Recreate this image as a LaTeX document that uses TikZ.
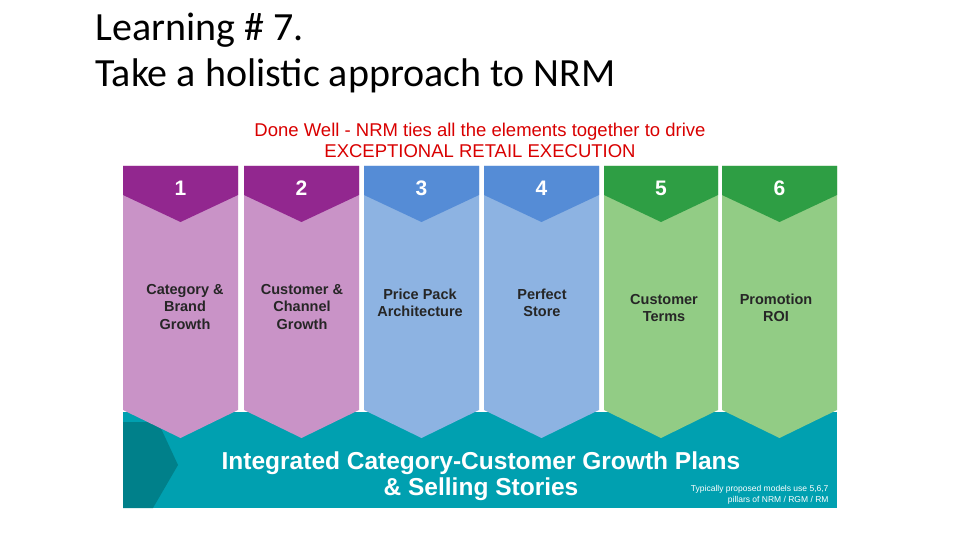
\documentclass[tikz,border=0pt]{standalone}
\usepackage{fontspec}
\setmainfont{Liberation Sans}
\newfontfamily\titlefont{Carlito}
\begin{document}
\begin{tikzpicture}[x=1pt,y=-1pt,
  num/.style={text=white,font=\bfseries\fontsize{21}{23}\selectfont},
  lbl/.style={text=black!85,font=\bfseries\fontsize{14.5}{17.5}\selectfont,align=center}]
\useasboundingbox (0,0) rectangle (960,540);
\fill[white] (0,0) rectangle (960,540);
\node[anchor=west,font=\titlefont\fontsize{40}{46}\selectfont] (t1) at (92,30) {Learning \# 7.};
\node[anchor=west,font=\titlefont\fontsize{40}{46}\selectfont] (t2) at (92,76) {Take a holistic approach to NRM};
\node[text=red!85!black,font=\fontsize{18.5}{21}\selectfont,align=center] (sub) at (480,140) {Done Well - NRM ties all the elements together to drive\\EXCEPTIONAL RETAIL EXECUTION};
\fill[fill={rgb,255:red,0;green,160;blue,176}] (123,412) rectangle (837,508);
\fill[fill={rgb,255:red,0;green,128;blue,138}] (123,422) -- (158,422) -- (178,465) -- (153,508) -- (123,508) -- cycle;
\definecolor{pd}{RGB}{146,39,143}\definecolor{pl}{RGB}{201,147,199}
\definecolor{bd}{RGB}{85,140,214}\definecolor{bl}{RGB}{141,179,226}
\definecolor{gd}{RGB}{46,158,68}\definecolor{gl}{RGB}{146,204,133}
\foreach \i/\xa/\xb/\d/\l in {1/123/238/pd/pl,2/244/359/pd/pl,3/364/479/bd/bl,4/484/599/bd/bl,5/604/718/gd/gl,6/722/837/gd/gl}{
  \pgfmathsetmacro{\xm}{(\xa+\xb)/2}
  \fill[\l] (\xa,166) -- (\xb,166) -- (\xb,410) -- (\xm,438) -- (\xa,410) -- cycle;
  \fill[\d] (\xa,166) -- (\xb,166) -- (\xb,195) -- (\xm,222) -- (\xa,195) -- cycle;
  \node[num] (n\i) at (\xm,188) {\i};
}
\node[lbl] (c1) at (185,307) {Category \&\\Brand\\Growth};
\node[lbl] (c2) at (302,307) {Customer \&\\Channel\\Growth};
\node[lbl] (c3) at (420,303) {Price Pack\\Architecture};
\node[lbl] (c4) at (542,303) {Perfect\\Store};
\node[lbl] (c5) at (664,308) {Customer\\Terms};
\node[lbl] (c6) at (776,308) {Promotion\\ROI};
\node[text=white,font=\bfseries\fontsize{24.5}{26}\selectfont,align=center] (band) at (481,476) {Integrated Category-Customer Growth Plans\\\& Selling Stories};
\node[text=white,font=\fontsize{8.5}{11}\selectfont,align=right,anchor=east] (note) at (832,495) {Typically proposed models use 5,6,7\\pillars of NRM / RGM / RM};
\end{tikzpicture}
\end{document}
